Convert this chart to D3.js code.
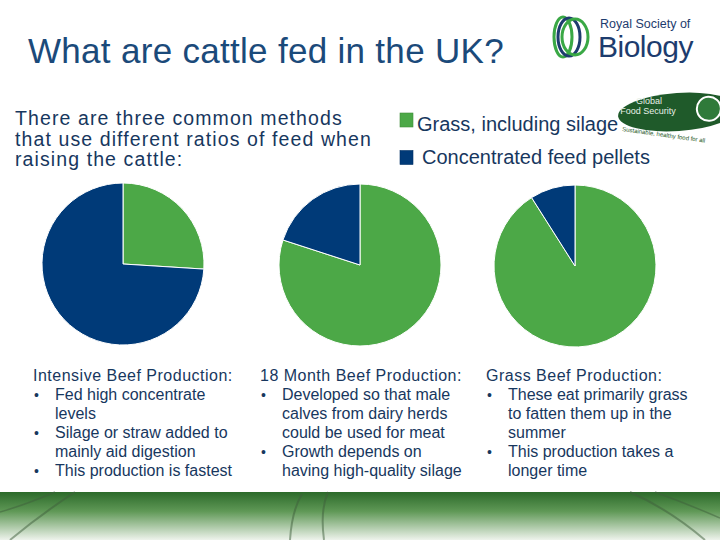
<!DOCTYPE html>
<html>
<head>
<meta charset="utf-8">
<script src="https://cdn.jsdelivr.net/npm/d3@7"></script>
<style>
  html, body { margin: 0; padding: 0; background: #fff; }
  svg { display: block; font-family: "Liberation Sans", Arial, sans-serif; }
</style>
</head>
<body>
<div id="chart"></div>
<script>
// datos
const feeds = ["Grass, including silage", "Concentrated feed pellets"]
const feedColors = ["#4ca847", "#003a78"]
const methods = ["Intensive Beef Production", "18 Month Beef Production", "Grass Beef Production"]
const grassShare = [26, 80, 91]
const pelletShare = [74, 20, 9]
const notes = [
    [["Fed high concentrate", "levels"], ["Silage or straw added to", "mainly aid digestion"], ["This production is fastest"]],
    [["Developed so that male", "calves from dairy herds", "could be used for meat"], ["Growth depends on", "having high-quality silage"]],
    [["These eat primarily grass", "to fatten them up in the", "summer"], ["This production takes a", "longer time"]]
]
const introLines = ["There are three common methods", "that use different ratios of feed when", "raising the cattle:"]

const width = 720
const height = 540
const svg = d3.select("div#chart").append("svg").attr("width", width).attr("height", height)

const defs = svg.append("defs")
const grassGrad = defs.append("linearGradient").attr("id", "grassGrad").attr("x1", 0).attr("y1", 0).attr("x2", 0).attr("y2", 1)
grassGrad.append("stop").attr("offset", "0%").attr("stop-color", "#2c6a2a")
grassGrad.append("stop").attr("offset", "40%").attr("stop-color", "#5f9856")
grassGrad.append("stop").attr("offset", "100%").attr("stop-color", "#eef3ec")

// franja de hierba abajo
svg.append("rect").attr("x", 0).attr("y", 492).attr("width", width).attr("height", 48).attr("fill", "url(#grassGrad)")
const streaks = svg.append("g").attr("stroke", "#3f5f3c").attr("fill", "none").attr("opacity", 0.5)
streaks.append("path").attr("d", "M75,492 Q40,515 10,540").attr("stroke-width", 2)
streaks.append("path").attr("d", "M55,492 Q25,505 0,512").attr("stroke-width", 1.5)
streaks.append("path").attr("d", "M302,494 Q292,510 290,540").attr("stroke-width", 2)
streaks.append("path").attr("d", "M328,492 Q320,510 324,540").attr("stroke-width", 2)
streaks.append("path").attr("d", "M630,492 Q670,510 705,540").attr("stroke-width", 2)
streaks.append("path").attr("d", "M655,492 Q690,505 720,518").attr("stroke-width", 1.5)

// título
svg.append("text")
    .attr("x", 28).attr("y", 63)
    .style("font-size", "35px")
    .style("letter-spacing", "0.3px")
    .attr("fill", "#1b4a7a")
    .text("What are cattle fed in the UK?")

// logo Royal Society of Biology
const rsb = svg.append("g").attr("transform", "translate(569,37)").attr("fill", "none").attr("stroke-width", 3)
;[0, 6, 12].forEach((dx, i) => {
    rsb.append("ellipse").attr("cx", dx - 6).attr("cy", 0).attr("rx", 9 + i * 2).attr("ry", 20 - i)
        .attr("stroke", i % 2 ? "#1d3c6e" : "#3aa845")
})
svg.append("text").attr("x", 600).attr("y", 28).style("font-size", "12.5px").attr("fill", "#1d3c6e").text("Royal Society of")
svg.append("text").attr("x", 598).attr("y", 57).style("font-size", "30px").style("letter-spacing", "-0.5px").attr("fill", "#1d3c6e").text("Biology")

// logo Global Food Security
const gfs = svg.append("g").attr("transform", "translate(678,112) rotate(-4)")
gfs.append("ellipse").attr("rx", 60).attr("ry", 19).attr("fill", "#1f5a2a")
gfs.append("circle").attr("cx", 31).attr("cy", -1).attr("r", 12).attr("fill", "#2f7a3a").attr("stroke", "#fff").attr("stroke-width", 2)
svg.append("text").attr("x", 649).attr("y", 104).attr("text-anchor", "middle").style("font-size", "9px").attr("fill", "#e8f0e8").text("Global")
svg.append("text").attr("x", 648).attr("y", 114).attr("text-anchor", "middle").style("font-size", "9px").attr("fill", "#e8f0e8").text("Food Security")
svg.append("text").attr("x", 622).attr("y", 131).attr("transform", "rotate(8,622,131)").style("font-size", "6px").attr("fill", "#1f5a2a").text("Sustainable, healthy food for all")

// texto introductorio
svg.append("g").selectAll("text").data(introLines).join("text")
    .attr("x", 15).attr("y", (d, i) => 125 + i * 20.5)
    .style("font-size", "19.5px")
    .style("letter-spacing", "1.1px")
    .attr("fill", "#17375e")
    .text(d => d)

// leyenda
const legend = svg.append("g")
const legendY = [120, 157.5]
const legendTextX = [417, 422]
feeds.forEach((f, i) => {
    legend.append("rect").attr("x", 400).attr("y", legendY[i] - 7).attr("width", 13).attr("height", 14)
        .attr("fill", feedColors[i]).attr("stroke", d3.color(feedColors[i]).darker(0.5)).attr("stroke-width", 0.6)
    legend.append("text").attr("x", legendTextX[i]).attr("y", [131, 164][i])
        .style("font-size", "20px").attr("fill", "#17375e").text(f)
})

// tartas
const pieCenters = [[123, 264], [360, 265], [575, 266]]
const radius = 81
const pie = d3.pie().sort(null).value(d => d.value)
const arc = d3.arc().innerRadius(0).outerRadius(radius)

methods.forEach((m, i) => {
    const slices = [
        {feed: feeds[0], value: grassShare[i]},
        {feed: feeds[1], value: pelletShare[i]}
    ]
    const g = svg.append("g").attr("transform", `translate(${pieCenters[i][0]},${pieCenters[i][1]})`)
    g.selectAll("path").data(pie(slices)).join("path")
        .attr("d", arc)
        .attr("fill", (d, j) => feedColors[j])
        .attr("stroke", "#fff")
        .attr("stroke-width", 1)
})

// texto de cada método
const colX = [33, 260, 486]
methods.forEach((m, i) => {
    const col = svg.append("g").attr("fill", "#17375e")
    col.append("text").attr("x", colX[i]).attr("y", 381)
        .style("font-size", "16px").style("letter-spacing", "0.5px")
        .text(m + ":")
    let line = 0
    notes[i].forEach(bullet => {
        col.append("text").attr("x", colX[i] + 1).attr("y", 400 + line * 19.1).style("font-size", "14px").text("•")
        bullet.forEach(t => {
            col.append("text").attr("x", colX[i] + 22).attr("y", 400 + line * 19.1).style("font-size", "16px").text(t)
            line++
        })
    })
})
</script>
</body>
</html>
